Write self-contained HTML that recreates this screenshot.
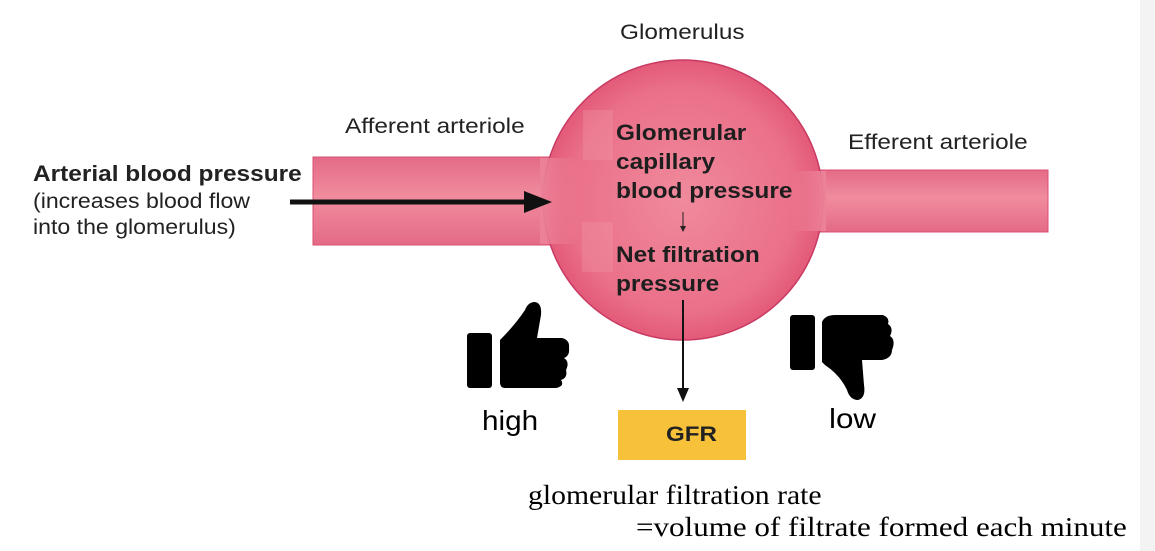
<!DOCTYPE html>
<html><head><style>
body{margin:0;width:1155px;height:551px;background:#fff;position:relative;overflow:hidden;font-family:"Liberation Sans",sans-serif}
.t{position:absolute;color:#222;white-space:nowrap;transform-origin:0 0}
</style></head><body>
<svg width="1155" height="551" style="position:absolute;left:0;top:0">
<defs>
<linearGradient id="tube" x1="0" y1="0" x2="0" y2="1">
<stop offset="0" stop-color="#e46a86"/><stop offset="0.45" stop-color="#f08c9e"/><stop offset="1" stop-color="#e46a86"/></linearGradient>
<linearGradient id="jl" x1="0" y1="0" x2="1" y2="0">
<stop offset="0" stop-color="#ec8298"/><stop offset="1" stop-color="#ec8298" stop-opacity="0"/></linearGradient>
<linearGradient id="jr" x1="1" y1="0" x2="0" y2="0">
<stop offset="0" stop-color="#ec8298"/><stop offset="1" stop-color="#ec8298" stop-opacity="0"/></linearGradient>
<radialGradient id="ball" cx="0.5" cy="0.5" r="0.5">
<stop offset="0" stop-color="#f08a9d"/><stop offset="0.8" stop-color="#ea7089"/><stop offset="1" stop-color="#e35a79"/></radialGradient>
</defs>
<rect x="1140" y="0" width="15" height="551" fill="#f3f3f3"/>
<rect x="313" y="157" width="260" height="88" fill="url(#tube)" stroke="#d84f70" stroke-width="1"/>
<rect x="780" y="170" width="268" height="62" fill="url(#tube)" stroke="#d84f70" stroke-width="1"/>
<circle cx="683" cy="200" r="140" fill="url(#ball)" stroke="#c83a62" stroke-width="1.5"/>
<rect x="540" y="158" width="40" height="86" fill="url(#jl)"/>
<rect x="790" y="171" width="36" height="60" fill="url(#jr)"/>
<rect x="583" y="110" width="30" height="50" fill="#f29aac" opacity="0.3"/>
<rect x="582" y="222" width="31" height="50" fill="#f29aac" opacity="0.3"/>
<line x1="290" y1="202" x2="530" y2="202" stroke="#111" stroke-width="5"/>
<polygon points="524,191 552,202 524,213" fill="#111"/>
<line x1="683" y1="212" x2="683" y2="228" stroke="#222" stroke-width="1"/>
<polygon points="680,226 683,232 686,226" fill="#222"/>
<line x1="683" y1="300" x2="683" y2="392" stroke="#111" stroke-width="2"/>
<polygon points="677,388 683,402 689,388" fill="#111"/>
<rect x="618" y="410" width="128" height="50" fill="#f8c13a"/>
<g fill="#000">
<rect x="467" y="333" width="25" height="55" rx="3"/>
<path d="M500 340 Q515 325 525 310 Q528 302 535 302 Q542 303 541 315 L537 338 L562 338 Q570 340 569 348 Q570 356 564 358 Q570 362 566 370 Q568 378 561 380 Q565 386 556 388 L505 388 Q500 388 500 382 Z"/>
</g>
<g fill="#000">
<rect x="790" y="315" width="25" height="55" rx="3"/>
<path d="M822 322 Q825 315 835 315 L883 315 Q890 318 888 324 Q894 328 890 336 Q896 340 892 350 Q892 358 882 360 L862 360 L864 385 Q866 398 858 400 Q850 400 847 390 Q840 375 825 365 L822 362 Z"/>
</g>
</svg>
<div class="t" style="left:620px;top:21px;font-size:21px;transform:scaleX(1.16)">Glomerulus</div>
<div class="t" style="left:345px;top:115px;font-size:21px;transform:scaleX(1.16)">Afferent arteriole</div>
<div class="t" style="left:848px;top:131px;font-size:21px;transform:scaleX(1.16)">Efferent arteriole</div>
<div class="t" style="left:33px;top:161px;font-size:22px;font-weight:bold;transform:scaleX(1.11)">Arterial blood pressure</div>
<div class="t" style="left:33px;top:189px;font-size:21px;line-height:26px;transform:scaleX(1.1)">(increases blood flow<br>into the glomerulus)</div>
<div class="t" style="left:616px;top:118px;font-size:22px;font-weight:bold;line-height:29px;color:#1e1e1e;transform:scaleX(1.11)">Glomerular<br>capillary<br>blood pressure</div>
<div class="t" style="left:616px;top:240px;font-size:22px;font-weight:bold;line-height:29px;color:#1e1e1e;transform:scaleX(1.11)">Net filtration<br>pressure</div>
<div class="t" style="left:482px;top:405px;font-size:28px;color:#000;transform:scaleX(1.06)">high</div>
<div class="t" style="left:829px;top:403px;font-size:28px;color:#000;transform:scaleX(1.12)">low</div>
<div class="t" style="left:666px;top:423px;font-size:21px;font-weight:bold;transform:scaleX(1.15)">GFR</div>
<div class="t" style="left:528px;top:480px;font-size:27px;font-family:'Liberation Serif',serif;color:#000;transform:scaleX(1.1)">glomerular filtration rate</div>
<div class="t" style="left:636px;top:512px;font-size:27px;font-family:'Liberation Serif',serif;color:#000;transform:scaleX(1.15)">=volume of filtrate formed each minute</div>
</body></html>
